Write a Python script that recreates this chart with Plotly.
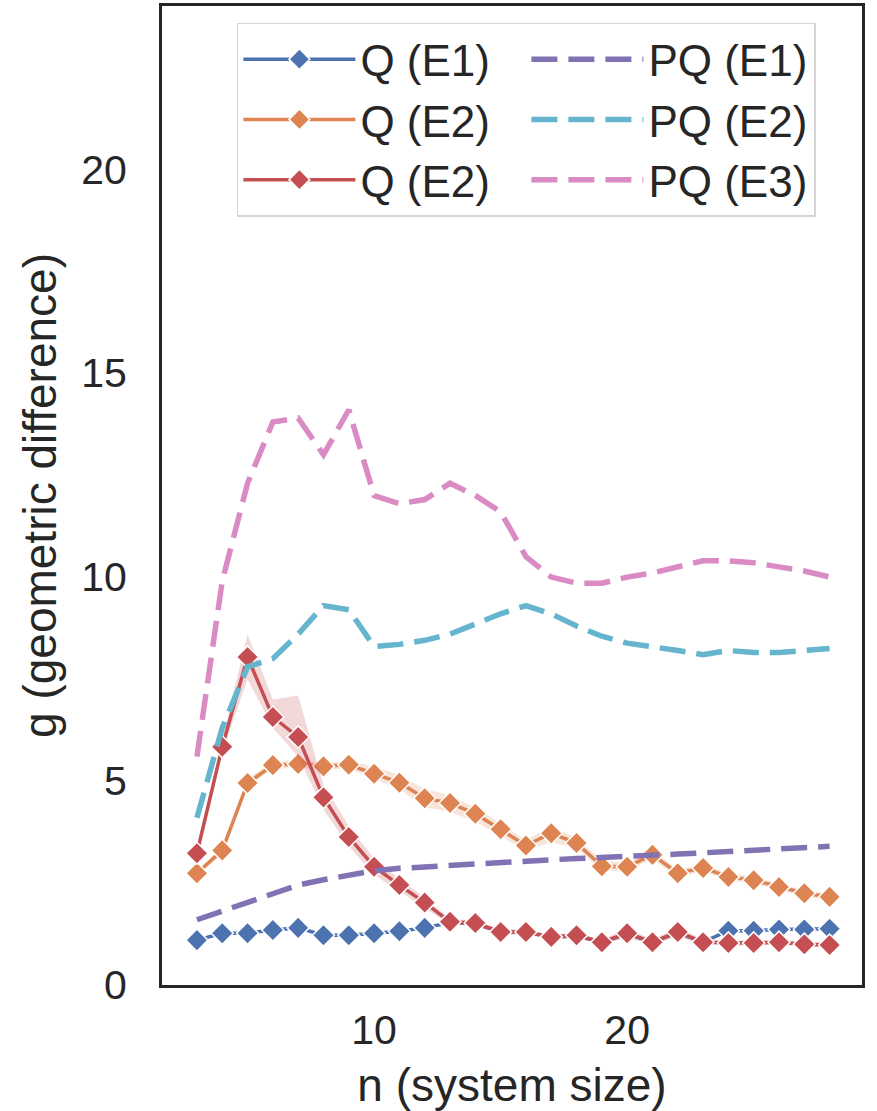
import plotly.graph_objects as go

n = list(range(3, 29))

q_e1 = [1.10, 1.27, 1.27, 1.35, 1.40, 1.22, 1.22, 1.27, 1.32, 1.40,
        1.53, 1.50, 1.30, 1.30, 1.17, 1.20, 1.05, 1.25, 1.05, 1.28,
        1.05, 1.33, 1.33, 1.36, 1.36, 1.38]
q_e2_orange = [2.74, 3.30, 4.95, 5.39, 5.42, 5.36, 5.40, 5.18, 4.96, 4.58,
               4.46, 4.20, 3.82, 3.42, 3.72, 3.48, 2.91, 2.90, 3.19, 2.74,
               2.87, 2.65, 2.57, 2.40, 2.25, 2.16]
q_e2_orange_lo = [2.68, 3.22, 4.85, 5.30, 5.32, 5.28, 5.30, 5.05, 4.80, 4.35,
                  4.25, 4.00, 3.65, 3.30, 3.50, 3.35, 2.80, 2.80, 3.08, 2.64,
                  2.78, 2.56, 2.48, 2.32, 2.17, 2.08]
q_e2_orange_hi = [2.80, 3.38, 5.05, 5.48, 5.52, 5.44, 5.50, 5.35, 5.15, 4.80,
                  4.65, 4.35, 3.95, 3.55, 3.90, 3.60, 3.05, 3.00, 3.30, 2.84,
                  2.96, 2.74, 2.66, 2.48, 2.33, 2.24]
q_e2_red = [3.23, 5.84, 8.04, 6.57, 6.08, 4.60, 3.63, 2.90, 2.45, 2.02,
            1.55, 1.52, 1.30, 1.30, 1.18, 1.22, 1.05, 1.27, 1.05, 1.30,
            1.05, 1.03, 1.03, 1.05, 1.00, 0.98]
q_e2_red_lo = [3.15, 5.70, 7.50, 6.30, 5.60, 4.30, 3.40, 2.70, 2.30, 1.90,
               1.48, 1.45, 1.24, 1.24, 1.12, 1.16, 0.99, 1.15, 0.99, 1.18,
               0.99, 0.97, 0.97, 0.99, 0.94, 0.92]
q_e2_red_hi = [3.30, 6.00, 8.60, 7.00, 7.10, 4.90, 3.90, 3.10, 2.60, 2.15,
               1.62, 1.59, 1.36, 1.36, 1.24, 1.28, 1.11, 1.40, 1.11, 1.42,
               1.11, 1.09, 1.09, 1.11, 1.06, 1.04]
pq_e1 = [1.60, 1.82, 2.03, 2.25, 2.45, 2.58, 2.70, 2.80, 2.86, 2.90,
         2.92, 2.96, 3.00, 3.04, 3.07, 3.10, 3.12, 3.15, 3.18, 3.21,
         3.24, 3.27, 3.30, 3.33, 3.37, 3.40]
pq_e2 = [4.10, 6.30, 7.80, 8.00, 8.60, 9.30, 9.20, 8.30, 8.35, 8.45,
         8.60, 8.85, 9.10, 9.30, 9.10, 8.80, 8.55, 8.38, 8.30, 8.20,
         8.10, 8.20, 8.15, 8.15, 8.20, 8.25]
pq_e3 = [5.60, 9.90, 12.30, 13.80, 13.90, 13.00, 14.10, 12.00, 11.80, 11.90,
         12.30, 12.00, 11.60, 10.50, 10.00, 9.85, 9.85, 10.00, 10.10, 10.25,
         10.40, 10.40, 10.35, 10.25, 10.15, 10.00]

x_ticks = [10, 20]
y_ticks = [0, 5, 10, 15, 20]

BLUE, ORANGE, RED = "#4C72B0", "#DD8452", "#C44E52"
PURPLE, CYAN, PINK = "#8172B3", "#64B5CD", "#DA8BC3"
FONT = "Liberation Sans, Arial, sans-serif"
INK = "#262626"

fig = go.Figure()


def band(lo, hi, rgba):
    fig.add_trace(go.Scatter(x=n, y=lo, mode="lines", line=dict(width=0),
                             showlegend=False, hoverinfo="skip"))
    fig.add_trace(go.Scatter(x=n, y=hi, mode="lines", line=dict(width=0),
                             fill="tonexty", fillcolor=rgba,
                             showlegend=False, hoverinfo="skip"))


def q_trace(y, color, name, rank):
    fig.add_trace(go.Scatter(
        x=n, y=y, name=name, mode="lines+markers", legendrank=rank,
        line=dict(color=color, width=3.5),
        marker=dict(symbol="diamond", size=17, color=color,
                    line=dict(color="white", width=1.5))))


def pq_trace(y, color, name, rank):
    fig.add_trace(go.Scatter(
        x=n, y=y, name=name, mode="lines", legendrank=rank,
        line=dict(color=color, width=5.5, dash="26px,11px")))


q_trace(q_e1, BLUE, "Q (E1)", 1)
band(q_e2_orange_lo, q_e2_orange_hi, "rgba(221,132,82,0.22)")
q_trace(q_e2_orange, ORANGE, "Q (E2)", 3)
band(q_e2_red_lo, q_e2_red_hi, "rgba(196,78,82,0.22)")
q_trace(q_e2_red, RED, "Q (E2)", 5)
pq_trace(pq_e1, PURPLE, "PQ (E1)", 2)
pq_trace(pq_e2, CYAN, "PQ (E2)", 4)
pq_trace(pq_e3, PINK, "PQ (E3)", 6)

fig.update_layout(
    width=877, height=1111,
    margin=dict(l=162, r=15, t=6, b=126),
    paper_bgcolor="white", plot_bgcolor="white",
    font=dict(family=FONT, color=INK),
    showlegend=True,
    legend=dict(
        orientation="h", traceorder="normal",
        x=0.107, y=0.983, xanchor="left", yanchor="top",
        entrywidth=161, entrywidthmode="pixels",
        font=dict(size=44, family=FONT, color=INK),
        bgcolor="white", bordercolor="#d6d6d6", borderwidth=1.5,
        itemwidth=112, tracegroupgap=0,
    ),
    xaxis=dict(
        range=[1.62, 29.28], tickvals=x_ticks, showgrid=False, zeroline=False,
        showline=True, mirror=True, linecolor=INK, linewidth=3,
        ticks="", tickfont=dict(size=41, family=FONT, color=INK),
        ticklabelstandoff=7,
        title=dict(text="n (system size)", font=dict(size=46, family=FONT, color=INK),
                   standoff=19),
        automargin=False,
    ),
    yaxis=dict(
        range=[0, 24], tickvals=y_ticks, showgrid=False, zeroline=False,
        showline=True, mirror=True, linecolor=INK, linewidth=3,
        ticks="", tickfont=dict(size=41, family=FONT, color=INK),
        ticklabelstandoff=24,
        title=dict(text="g (geometric difference)", font=dict(size=46, family=FONT, color=INK),
                   standoff=11),
        automargin=False,
    ),
)

fig.write_html("out.html")
